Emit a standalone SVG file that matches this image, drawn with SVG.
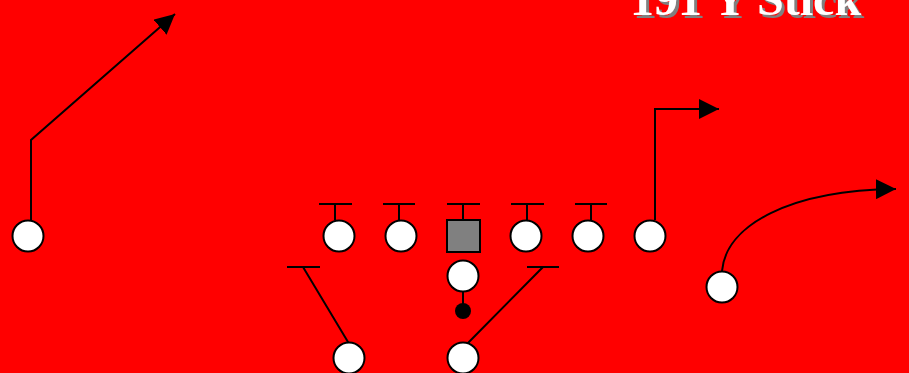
<svg xmlns="http://www.w3.org/2000/svg" width="909" height="373" viewBox="0 0 909 373">
<style>
.p{fill:#fff;stroke:#000;stroke-width:2}
.r{fill:none;stroke:#000;stroke-width:2}
.t{font-family:"Liberation Serif","Times New Roman",serif;font-weight:bold;font-size:48px}
</style>
<defs>
<marker id="ah" markerUnits="userSpaceOnUse" markerWidth="20" markerHeight="20" refX="20" refY="10" orient="auto" viewBox="0 0 20 20">
<path d="M0,0 L20,10 L0,20 z" fill="#000"/>
</marker>
<filter id="sh" x="-5%" y="-50%" width="110%" height="200%">
<feDropShadow dx="3" dy="3" stdDeviation="0" flood-color="#808080" flood-opacity="1"/>
</filter>
</defs>
<rect width="909" height="373" fill="#ff0000"/>
<g id="title">
<text class="t" x="630" y="15" fill="#fff" filter="url(#sh)">191 Y Stick</text>
</g>
<g id="connectors">
<path class="r" d="M31,220 V140 L175,14" marker-end="url(#ah)"/>
<path class="r" d="M655,220 V109 H719" marker-end="url(#ah)"/>
<path class="r" d="M722,271 C726,225 790,190 896,189" marker-end="url(#ah)"/>
<path class="r" d="M319,204 H352 M335,204 V220"/>
<path class="r" d="M383,204 H415 M399,204 V220"/>
<path class="r" d="M447,204 H480 M463,204 V220"/>
<path class="r" d="M511,204 H544 M527,204 V220"/>
<path class="r" d="M575,204 H607 M591,204 V220"/>
<path class="r" d="M287,267 H320 M303,267 L351,347"/>
<path class="r" d="M527,267 H559 M543,267 L464,347"/>
<path class="r" d="M463,292 V304"/>
</g>
<g id="wr-left"><circle class="p" cx="28" cy="236" r="15.5"/></g>
<g id="lt"><circle class="p" cx="339" cy="236" r="15.5"/></g>
<g id="lg"><circle class="p" cx="401" cy="236" r="15.5"/></g>
<g id="center"><rect x="447" y="220" width="33" height="32" fill="#808080" stroke="#000" stroke-width="2"/></g>
<g id="rg"><circle class="p" cx="526" cy="236" r="15.5"/></g>
<g id="rt"><circle class="p" cx="588" cy="236" r="15.5"/></g>
<g id="te"><circle class="p" cx="650" cy="236" r="15.5"/></g>
<g id="slot"><circle class="p" cx="722" cy="287" r="15.5"/></g>
<g id="qb"><circle class="p" cx="463" cy="276" r="15.5"/></g>
<g id="ball"><circle cx="463" cy="311" r="8" fill="#000"/></g>
<g id="rb-left"><circle class="p" cx="349" cy="358" r="15.5"/></g>
<g id="rb-right"><circle class="p" cx="463" cy="358" r="15.5"/></g>
</svg>
